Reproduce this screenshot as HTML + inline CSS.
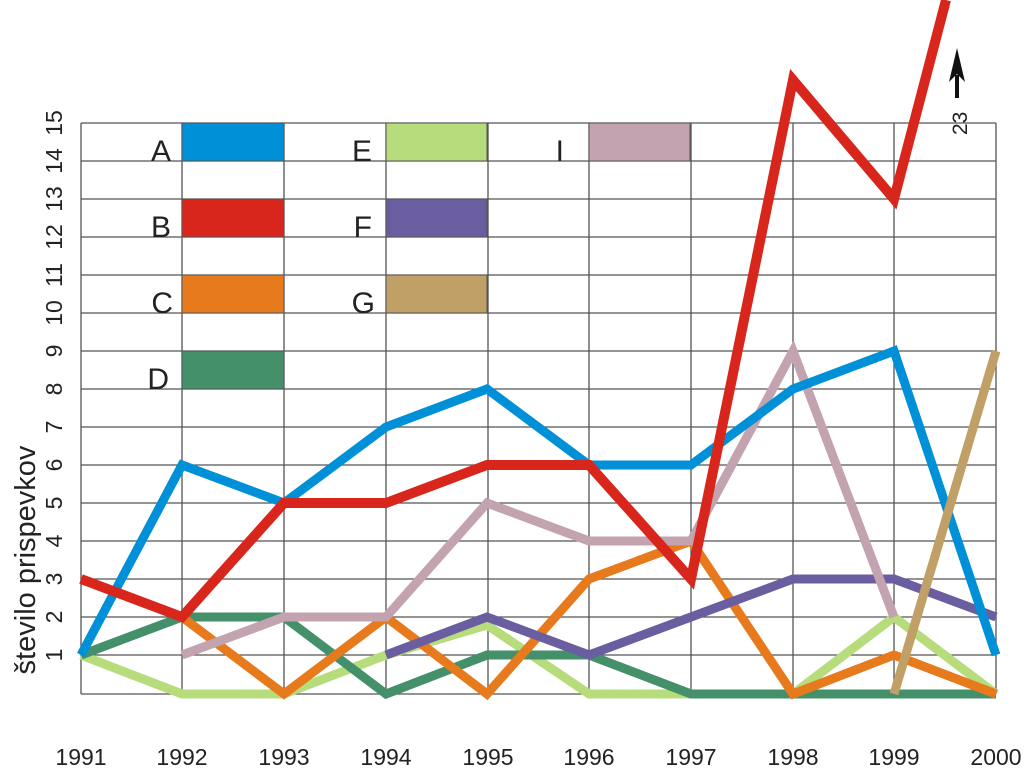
<!DOCTYPE html>
<html><head><meta charset="utf-8"><style>body{margin:0;background:#fff}svg{display:block}text{font-family:"Liberation Sans",sans-serif;fill:#222}</style></head><body>
<svg width="1024" height="768" viewBox="0 0 1024 768">
<g stroke="#555" stroke-width="1.3" fill="none">
<path d="M81 123H996M81 161H996M81 199H996M81 237H996M81 275H996M81 313H996M81 351H996M81 389H996M81 427H996M81 465H996M81 503H996M81 541H996M81 579H996M81 617H996M81 655H996M81 694H996"/>
<path d="M81 123V694M182 123V694M284 123V694M386 123V694M488 123V694M589 123V694M691 123V694M793 123V694M894 123V694M996 123V694"/>
</g>
<g stroke="#555" stroke-width="1">
<rect x="182" y="123" width="102" height="38" fill="#0090d8"/>
<rect x="182" y="199" width="102" height="38" fill="#d9261c"/>
<rect x="182" y="275" width="102" height="38" fill="#e77a1c"/>
<rect x="182" y="351" width="102" height="38" fill="#44906a"/>
<rect x="386" y="123" width="101" height="38" fill="#b6dc7c"/>
<rect x="386" y="199" width="101" height="38" fill="#6a5ea0"/>
<rect x="386" y="275" width="101" height="38" fill="#c0a066"/>
<rect x="589" y="123" width="101" height="38" fill="#c3a3af"/>
</g>
<g font-size="30" text-anchor="end">
<text x="171" y="161">A</text><text x="171" y="237">B</text><text x="173" y="313">C</text><text x="169" y="389">D</text>
<text x="372" y="161">E</text><text x="372" y="237">F</text><text x="375" y="313">G</text><text x="564" y="161">I</text>
</g>
<g fill="none" stroke-width="9" stroke-linejoin="miter">
<polyline stroke="#b6dc7c" points="81,655 182,694 284,694 386,655 487,625 589,694 691,694 793,694 894,617 996,694"/>
<polyline stroke="#44906a" points="81,655 182,617 284,617 386,694 487,655 589,655 691,694 793,694 894,694 996,694"/>
<polyline stroke="#e77a1c" points="182,617 284,694 386,617 487,694 589,579 691,541 793,694 894,655 996,694"/>
<polyline stroke="#6a5ea0" points="386,655 487,617 589,655 691,617 793,579 894,579 996,617"/>
<polyline stroke="#c3a3af" points="182,655 284,617 386,617 487,503 589,541 691,541 793,351 894,617"/>
<polyline stroke="#0090d8" points="81,655 182,465 284,503 386,427 487,389 589,465 691,465 793,389 894,351 996,655"/>
<polyline stroke="#d9261c" stroke-width="10" points="81,579 182,617 284,503 386,503 487,465 589,465 691,579 793,80 894,199 946,0"/>
<polyline stroke="#c0a066" points="894,694 996,351"/>
</g>
<line x1="957" y1="98" x2="957" y2="75" stroke="#111" stroke-width="4"/>
<polygon points="957,48 949,82 957,74 965,82" fill="#111"/>
<text transform="translate(967,135) rotate(-90)" font-size="21">23</text>
<g font-size="23" text-anchor="middle">
<text transform="translate(62,123) rotate(-90)">15</text><text transform="translate(62,161) rotate(-90)">14</text>
<text transform="translate(62,199) rotate(-90)">13</text><text transform="translate(62,237) rotate(-90)">12</text>
<text transform="translate(62,275) rotate(-90)">11</text><text transform="translate(62,313) rotate(-90)">10</text>
<text transform="translate(62,351) rotate(-90)">9</text><text transform="translate(62,389) rotate(-90)">8</text>
<text transform="translate(62,427) rotate(-90)">7</text><text transform="translate(62,465) rotate(-90)">6</text>
<text transform="translate(62,503) rotate(-90)">5</text><text transform="translate(62,541) rotate(-90)">4</text>
<text transform="translate(62,579) rotate(-90)">3</text><text transform="translate(62,617) rotate(-90)">2</text>
<text transform="translate(62,655) rotate(-90)">1</text>
</g>
<text transform="translate(35,560) rotate(-90)" font-size="29" text-anchor="middle">število prispevkov</text>
<g font-size="23" text-anchor="middle">
<text x="81" y="765">1991</text><text x="182" y="765">1992</text><text x="284" y="765">1993</text><text x="386" y="765">1994</text><text x="488" y="765">1995</text><text x="589" y="765">1996</text><text x="691" y="765">1997</text><text x="793" y="765">1998</text><text x="894" y="765">1999</text><text x="996" y="765">2000</text>
</g>
</svg>
</body></html>
